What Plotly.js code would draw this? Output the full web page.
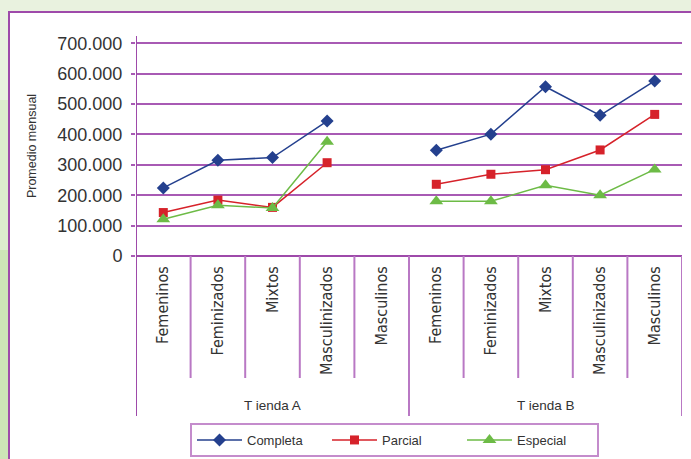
<!DOCTYPE html>
<html>
<head>
<meta charset="utf-8">
<script src="https://cdn.plot.ly/plotly-3.0.1.min.js"></script>
<style>
  html, body { margin: 0; padding: 0; background: #e9f2df; }
  #chart { width: 691px; height: 459px; }
</style>
</head>
<body>
<div id="chart"></div>
<script>
// ---- data ----
const groups = ['T ienda A', 'T ienda B'];
const categories = ['Femeninos', 'Feminizados', 'Mixtos', 'Masculinizados', 'Masculinos',
                    'Femeninos', 'Feminizados', 'Mixtos', 'Masculinizados', 'Masculinos'];
const seriesNames = ['Completa', 'Parcial', 'Especial'];
const completa = [224000, 315000, 324000, 444000, null, 348000, 401000, 557000, 463000, 576000];
const parcial  = [143000, 184000, 160000, 307000, null, 236000, 269000, 284000, 349000, 466000];
const especial = [121000, 167000, 158000, 376000, null, 180000, 180000, 233000, 200000, 285000];
const yTicks = [0, 100000, 200000, 300000, 400000, 500000, 600000, 700000];
const yTitle = 'Promedio mensual';

// ---- layout helpers ----
const W = 691, H = 459;
const mL = 136, mR = 9, mT = 36, mB = 203;
const plotH = H - mT - mB, plotW = W - mL - mR;
const py = px => (H - mB - px) / plotH;      // pixel y -> paper y
const pxX = px => (px - mL) / plotW;         // pixel x -> paper x

const xIdx = categories.map((c, i) => i);
const perGroup = categories.length / groups.length;

const purple = '#9e4aaa';
const gridPurple = '#a85ab4';
const lightPurple = '#b978c4';

const styles = [
  {color: '#24408e', symbol: 'diamond', size: 10},
  {color: '#d6222a', symbol: 'square', size: 9},
  {color: '#6dbb46', symbol: 'triangle-up', size: 12}
];
const values = [completa, parcial, especial];

const traces = seriesNames.map((name, k) => ({
  type: 'scatter', mode: 'lines+markers', name: name,
  x: xIdx, y: values[k],
  connectgaps: false,
  line: {color: styles[k].color, width: 1.5},
  marker: {color: styles[k].color, symbol: styles[k].symbol, size: styles[k].size},
  cliponaxis: false
}));

const shapes = [];
// left green strip of the page
shapes.push({type: 'rect', xref: 'paper', yref: 'paper', layer: 'below',
  x0: pxX(0), x1: pxX(9), y0: py(470), y1: py(250),
  fillcolor: '#cde4b7', line: {width: 0}});
shapes.push({type: 'rect', xref: 'paper', yref: 'paper', layer: 'below',
  x0: pxX(0), x1: pxX(9), y0: py(250), y1: py(100),
  fillcolor: '#dcecce', line: {width: 0}});
// white framed panel
shapes.push({type: 'rect', xref: 'paper', yref: 'paper', layer: 'below',
  x0: pxX(9), x1: pxX(720), y0: py(500), y1: py(12),
  fillcolor: '#ffffff', line: {color: purple, width: 2}});
// inner category boundaries
for (let i = 0; i < categories.length - 1; i++) {
  if ((i + 1) % perGroup === 0) continue;
  shapes.push({type: 'line', xref: 'x', yref: 'paper',
    x0: i + 0.5, x1: i + 0.5, y0: 0, y1: py(378),
    line: {color: lightPurple, width: 2}});
}
// group dividers
for (let g = 0; g <= groups.length; g++) {
  const xb = g * perGroup - 0.5;
  shapes.push({type: 'line', xref: 'x', yref: 'paper',
    x0: xb, x1: xb, y0: g === 0 ? py(36) : 0, y1: py(416),
    line: {color: g === 0 ? purple : lightPurple, width: 2}});
}

const annotations = groups.map((gname, g) => ({
  xref: 'x', yref: 'paper', x: g * perGroup + (perGroup - 1) / 2, y: py(405),
  text: gname, showarrow: false, xanchor: 'center', yanchor: 'middle',
  font: {family: 'Liberation Sans, Arial, sans-serif', size: 13.5, color: '#333'}
}));

const layout = {
  width: W, height: H,
  margin: {l: mL, r: mR, t: mT, b: mB, pad: 0, autoexpand: false},
  paper_bgcolor: '#e9f2df',
  plot_bgcolor: 'rgba(0,0,0,0)',
  separators: ',.',
  showlegend: true,
  xaxis: {
    range: [-0.5, categories.length - 0.5],
    tickmode: 'array', tickvals: xIdx, ticktext: categories,
    tickangle: -90, ticks: '', showgrid: false, zeroline: false, showline: false,
    tickfont: {family: 'Liberation Sans Narrow, DejaVu Sans Condensed, Arial Narrow, sans-serif', size: 16, color: '#333'},
    ticklabelstandoff: 6,
    fixedrange: true
  },
  yaxis: {
    range: [0, 724000],
    tickmode: 'array', tickvals: yTicks, tickformat: ',.0f',
    ticks: 'outside', ticklen: 4, tickwidth: 2, tickcolor: gridPurple,
    showgrid: true, gridcolor: gridPurple, gridwidth: 2,
    zeroline: true, zerolinecolor: purple, zerolinewidth: 2,
    showline: false,
    tickfont: {family: 'Liberation Sans, Arial, sans-serif', size: 18, color: '#333'},
    ticklabelstandoff: 5,
    title: {text: yTitle, standoff: 17, font: {family: 'Liberation Sans, Arial, sans-serif', size: 12.5, color: '#333'}},
    fixedrange: true
  },
  legend: {
    orientation: 'h', x: pxX(190), xanchor: 'left', y: py(423), yanchor: 'top',
    bgcolor: '#ffffff', bordercolor: '#c48ccc', borderwidth: 2,
    font: {family: 'Liberation Sans, Arial, sans-serif', size: 13, color: '#333'},
    itemwidth: 45, entrywidth: 75, entrywidthmode: 'pixels'
  },
  shapes: shapes,
  annotations: annotations
};

Plotly.newPlot('chart', traces, layout, {displayModeBar: false, staticPlot: true});
</script>
</body>
</html>
